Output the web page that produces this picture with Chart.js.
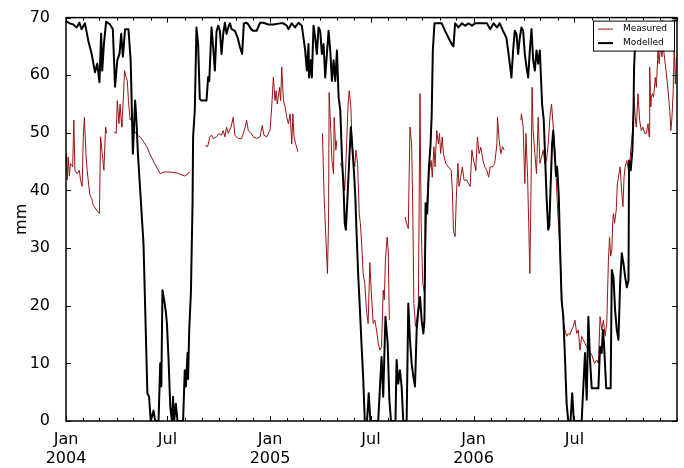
<!DOCTYPE html>
<html>
<head>
<meta charset="utf-8">
<script src="https://cdn.jsdelivr.net/npm/chart.js@4.4.1/dist/chart.umd.min.js"></script>
<style>
  html, body { margin: 0; padding: 0; background: #fff; }
</style>
</head>
<body>
<canvas id="chart" width="684" height="468"></canvas>
<script>
// x values are days counted from 1 Jan 2004
const monthDays = [0, 31, 60, 91, 121, 152, 182, 213, 244, 274, 305, 335,
  366, 397, 425, 456, 486, 517, 547, 578, 609, 639, 670, 700,
  731, 762, 790, 821, 851, 882, 912, 943, 974, 1004, 1035, 1065, 1096];
const tickDays = [0, 182, 366, 547, 731, 912];
const tickText = [['Jan', '2004'], ['Jul'], ['Jan', '2005'], ['Jul'], ['Jan', '2006'], ['Jul']];

// Measured (null = no data)
const measDays = [0, 1, 2, 4, 6, 8, 12, 14, 16, 20, 24, 26, 29, 31, 33, 36, 38, 41, 43, 46, 49, 55, 60, 62, 65, 68, 71, 73, 74,
  86, 90, 92, 95, 97, 99, 100, 103, 105, 108, 110, 112, 115, 118, 122, 128, 133, 139, 145, 151, 160, 169, 175, 187, 200, 213, 222, 223,
  249, 254, 258, 261, 264, 270, 274, 279, 282, 285, 288, 291, 296, 300, 303, 309, 315, 321, 324, 327, 332, 336, 342, 348, 352, 355, 360,
  366, 369, 372, 375, 377, 379, 383, 385, 387, 390, 393, 396, 399, 402, 405, 407, 409, 412, 416, 417,
  460, 463, 466, 469, 471, 472, 475, 477, 480, 481, 484, 486, 488,
  492, 495, 498, 500, 503, 506, 508, 511, 513, 515, 518, 520, 523, 524, 526, 528, 530, 533, 536, 539, 542, 545, 548, 551, 554, 557,
  560, 563, 566, 569, 571, 573, 576, 578, 580, 581,
  608, 611, 614, 617, 620, 622, 624, 627, 629, 632, 635, 637, 640, 643, 646, 649, 652, 655, 657, 660, 662, 665, 668, 670, 672, 675,
  677, 681, 686, 691, 693, 695, 698, 700, 703, 705, 708, 711, 714, 719, 722, 725, 728, 731, 734, 735, 738, 741, 744, 746, 748, 751,
  755, 758, 761, 765, 769, 773, 774, 777, 780, 783, 786, 787,
  816, 817, 820, 823, 825, 828, 830, 832, 834, 836, 838, 841, 844, 847, 850, 853, 856, 859, 862, 865, 868, 871, 874, 877, 880, 882,
  886, 889, 892, 895, 898, 901, 904, 907, 910, 913, 916, 919, 922, 925, 928, 931, 934, 943, 948, 952, 955, 958, 961, 964, 967, 970,
  973, 975, 977, 979, 981, 982, 984, 987, 989, 991, 994, 997, 999, 1001, 1003, 1006, 1009, 1010, 1013, 1016, 1019, 1021, 1023, 1026,
  1029, 1032, 1035, 1038, 1041, 1044, 1046, 1047, 1049, 1050, 1052, 1054, 1057, 1059, 1062, 1064, 1066, 1069, 1071, 1074, 1077, 1080,
  1083, 1085, 1087, 1089, 1091, 1093, 1095];
const measVals = [45, 46.4, 41.8, 45.8, 42.5, 44.7, 44.1, 52.2, 43.5, 42.9, 43.5, 41.8, 40.7, 49.3, 52.7, 45.8, 43.5, 40.7, 39.2, 38.6, 37.4, 36.6, 36, 49.3, 46.4, 43.5, 51, 49.9, null,
  50.2, 49.9, 55.6, 51.6, 55, 52.2, 51, 56.2, 60.8, 59.6, 59, 55.6, 52.2, 52.7, 50.4, 49.6, 49.3, 48.5, 47.6, 46.2, 44.5, 42.9, 43.2, 43.2, 43, 42.5, 43.2, null,
  47.8, 47.6, 49.3, 49.6, 49, 49.3, 49.9, 49.6, 50.4, 49.3, 51, 49.9, 51, 52.7, 49.6, 49, 49, 50.8, 52.2, 50.4, 49.9, 49.3, 49, 49.3, 51.3, 49.6, 49.3,
  50.5, 54.5, 59.7, 55.6, 57.3, 55, 57.9, 55.6, 61.4, 55.6, 54.5, 52.7, 51.6, 53.3, 48.1, 53.3, 49.3, 48.1, 46.7, null,
  49.9, 38.9, 32, 25.6, 34.9, 57, 50.4, 45.2, 42.9, 52.7, 47, 48.7, null,
  44.7, 44.1, 42.3, 40, 47, 55, 57.3, 54.5, 48.1, 45.8, 44.1, 47, 44.7, 41.8, 36, 34.3, 31.4, 25.6, 23.9, 19.2, 16.9, 27.5, 21.7, 16.9, 17.5, 15.8,
  13.5, 12.3, 12.9, 22.7, 21, 27.9, 31.9, 29.6, 17.5, null,
  35.4, 34.3, 33.4, 51, 48.1, 37.2, 20.4, 16.4, 17.5, 19.8, 56.8, 34.3, 23.9, 22.1, 34.3, 41.2, 43.5, 45.2, 42.3, 47.6, 44.1, 50.4, 48.1, 49.9, 46.4, 49.3,
  46.4, 44.7, 44.1, 43.5, 40, 33.1, 32, 38.4, 44.7, 40.7, 42.3, 44.1, 41.8, 41.8, 41.2, 40.7, 47, 45.2, 44.1, 43.5, 49.3, 46.4, 47.5, 46.4, 45.2, 44.1,
  43.5, 42.3, 44.1, 44.1, 44.7, 48.1, 52.7, 48.7, 46.4, 47.6, 47, null,
  52.2, 53.3, 51, 41.2, 49.9, 42.3, 34.3, 25.6, 38.9, 57.9, 50.4, 46.4, 42.9, 52.7, 44.7, 45.8, 47, 44.7, 45.2, 48.1, 52.7, 55, 51, 47, 40.7, 36.6,
  29.6, 22.1, 17.5, 15.8, 14.7, 15.2, 15, 15.8, 16.4, 17.5, 15.2, 15.8, 12.3, 14.7, 14.1, 13.5, 12.9, 11.5, 10, 10.6, 10, 18.1, 15.8, 17.5, 14.7, 16.9,
  27.9, 31.9, 28.6, 29.6, 35, 36, 34.3, 36.6, 41.2, 42.3, 44.1, 39.5, 37.2, 42.3, 44.1, 45.2, 43.5, 42.3, 47, 49.9, 56.2, 52.7, 51, 56.8,
  52.2, 50.4, 51, 49.9, 49.9, 51.6, 49.3, 61.4, 54.5, 56.2, 56.8, 56.2, 59.6, 57.9, 64.3, 62, 64.9, 63.2, 65.4, 62.6, 60.3, 57.3,
  53.9, 50.4, 52.7, 56.8, 65.4, 58.5, 63];

// Modelled
const modDays = [0, 1, 7, 13, 19, 24, 28, 34, 40, 46, 52, 56, 60, 63, 65, 68, 72, 79, 84, 88, 92, 96, 99, 102, 106, 112, 116, 120,
  124, 126, 129, 139, 146, 149, 152, 157, 160, 166, 169, 171, 173, 176, 179, 181, 184, 187, 190, 192, 194, 197, 200, 210, 213, 215,
  218, 219, 221, 224, 227, 228, 231, 234, 237, 240, 243, 252, 255, 257, 261, 264, 267, 270, 273, 276, 279, 282, 285, 288, 291, 294,
  297, 303, 308, 312, 316, 319, 324, 327, 332, 336, 342, 348, 354, 363, 372, 384, 390, 396, 399, 405, 411, 417, 423, 426, 429, 432,
  435, 436, 439, 441, 444, 447, 450, 453, 456, 459, 462, 465, 468, 471, 474, 477, 480, 483, 486, 489, 492, 495, 498, 500, 502, 505,
  508, 511, 514, 517, 519, 521, 524, 527, 530, 533, 536, 540, 543, 546, 553, 560, 566, 569, 573, 577, 580, 583, 591, 593, 596, 599,
  602, 605, 611, 614, 617, 620, 623, 626, 629, 632, 635, 638, 641, 643, 645, 648, 651, 654, 656, 658, 661, 674, 680, 686, 692, 695,
  698, 704, 710, 716, 722, 728, 734, 748, 755, 761, 767, 773, 778, 784, 790, 793, 796, 799, 802, 805, 808, 811, 814, 817, 820, 823,
  826, 829, 832, 835, 838, 841, 844, 847, 850, 852, 854, 857, 859, 862, 865, 867, 869, 872, 874, 877, 879, 881, 884, 886, 889, 892,
  895, 898, 901, 905, 908, 911, 925, 928, 931, 934, 937, 940, 943, 955, 958, 961, 963, 965, 969, 977, 979, 982, 985, 988, 991, 994,
  997, 1000, 1003, 1006, 1009, 1010, 1013, 1016, 1018, 1019, 1022, 1023, 1030, 1040, 1050, 1060, 1070, 1080, 1090, 1096];
const modVals = [69.4, 69.4, 69, 68.8, 68.3, 69.1, 68, 69, 66, 63.7, 60.5, 62, 58.8, 67.2, 60.8, 65.4, 69.3, 68.8, 68, 58, 62.6, 63.7, 67.2, 63.2, 68, 68, 62.6, 46.4,
  55.6, 52.7, 46.4, 30.8, 4.8, 4.2, 0, 1.8, 0, 0, 10, 6, 22.7, 21, 19, 17, 10.6, 2.5, 0, 4.2, 0, 3, 0, 0, 8.8, 6,
  11.8, 7.3, 15.8, 22.1, 37.8, 49.3, 53.9, 68.3, 65.4, 55.9, 55.6, 55.6, 59.7, 59, 68.3, 64.9, 60.8, 67.6, 68.6, 67.7, 63.7, 67.2, 69.1, 67.2, 68.3, 69,
  68, 67.7, 66.5, 64.9, 63.7, 69, 69.1, 68.8, 68, 67.7, 67.7, 69.1, 69.1, 68.8, 68.8, 69, 69, 68.6, 68, 69, 68.3, 69.1, 68.6, 66.5, 64.3, 60.8,
  65.4, 59.6, 62.6, 59.6, 68.6, 66.5, 63.7, 68.3, 67.7, 63.7, 65.4, 59.6, 63.7, 67.7, 64.3, 59, 62.6, 59, 64.3, 56.2, 53.9, 45.8, 40, 34.3, 33.2, 38.9,
  45.2, 51, 47, 42.5, 38.9, 33.2, 25.6, 19.8, 13.5, 7.7, 0, 0, 4.8, 0, 0, 0, 11.1, 4.2, 18.1, 13.5, 3.7, 0, 0, 10.6, 6.5, 8.8,
  6, 0, 0, 20.4, 14.1, 10, 7.7, 6, 15.8, 19.2, 21.5, 17.5, 15.2, 17.5, 37.8, 36, 44, 48.1, 53.3, 64.3, 69, 69, 67.7, 66.5, 65.4, 65,
  69, 68.3, 69, 68.6, 69, 68.6, 69, 69, 69, 68, 69, 68.3, 69, 67.7, 66.5, 64.3, 62, 59.6, 64.3, 67.7, 67.2, 63.7, 66.5, 68.3, 67.7, 63.7,
  61.4, 59.6, 64.3, 68, 62.6, 60.8, 64.3, 62, 64.3, 59.6, 55, 52.2, 47, 38.9, 33.2, 33.8, 40, 48.1, 50.4, 45.8, 42.5, 44.1, 38.9, 30.8, 21, 18.1,
  11.1, 3, 0, 0, 4.8, 0, 0, 6, 11.8, 3.7, 18.1, 10.6, 5.7, 5.7, 12.9, 11.8, 15.8, 13.5, 5.7, 5.7, 26.2, 25, 19.2, 15.8, 14.1, 24,
  29.1, 27.3, 25, 23.2, 24.4, 45.2, 43.5, 47, 53.9, 61.4, 67.7, 69.3, 69.2, 68.8, 69.3, 69, 69.4, 69, 69.5, 69.5];

const font = { family: 'DejaVu Sans', size: 16, lineHeight: 1.2 };

// frame, inward ticks and legend box drawn over the data
const framePlugin = {
  id: 'frame',
  afterDraw(chart) {
    const { ctx, chartArea: a, scales: { x, y } } = chart;
    ctx.save();
    ctx.strokeStyle = '#000';
    ctx.lineWidth = 1;
    ctx.beginPath();
    x.ticks.forEach(t => {
      const px = Math.round(x.getPixelForValue(t.value)) + 0.5;
      const len = tickDays.includes(t.value) ? 5 : 3;
      ctx.moveTo(px, a.bottom); ctx.lineTo(px, a.bottom - len);
      ctx.moveTo(px, a.top); ctx.lineTo(px, a.top + len);
    });
    y.ticks.forEach(t => {
      const py = Math.round(y.getPixelForValue(t.value)) + 0.5;
      ctx.moveTo(a.left, py); ctx.lineTo(a.left + 5, py);
      ctx.moveTo(a.right, py); ctx.lineTo(a.right - 5, py);
    });
    ctx.stroke();
    ctx.lineWidth = 1.5;
    ctx.strokeRect(a.left, a.top, a.right - a.left, a.bottom - a.top);

    // legend
    const lx = a.right - 84, ly = a.top + 3;
    ctx.fillStyle = '#fff';
    ctx.fillRect(lx, ly, 81, 30);
    ctx.lineWidth = 1;
    ctx.strokeRect(lx + 0.5, ly + 0.5, 81, 30);
    ctx.font = '9px "DejaVu Sans"';
    ctx.textBaseline = 'middle';
    chart.data.datasets.forEach((ds, i) => {
      const cy = ly + 8.5 + i * 14;
      ctx.strokeStyle = ds.borderColor;
      ctx.lineWidth = ds.borderWidth;
      ctx.beginPath();
      ctx.moveTo(lx + 5, cy); ctx.lineTo(lx + 20, cy);
      ctx.stroke();
      ctx.fillStyle = '#000';
      ctx.fillText(ds.label, lx + 30, cy);
    });
    ctx.restore();
  }
};

new Chart(document.getElementById('chart'), {
  type: 'line',
  data: {
    datasets: [
      { label: 'Measured', data: measDays.map((d, i) => ({ x: d, y: measVals[i] })), borderColor: '#9a1414', borderWidth: 1, order: 2 },
      { label: 'Modelled', data: modDays.map((d, i) => ({ x: d, y: modVals[i] })), borderColor: '#000000', borderWidth: 2, order: 1 }
    ]
  },
  options: {
    responsive: false,
    animation: false,
    devicePixelRatio: 1,
    spanGaps: false,
    elements: { point: { radius: 0 }, line: { tension: 0, borderJoinStyle: 'round', fill: false } },
    layout: { padding: { top: 17, right: 7, left: 0, bottom: 0 } },
    plugins: { legend: { display: false }, tooltip: { enabled: false } },
    scales: {
      x: {
        type: 'linear', min: 0, max: 1096,
        afterBuildTicks: s => { s.ticks = monthDays.map(v => ({ value: v })); },
        afterFit: s => { s.height = 47; },
        grid: { display: false }, border: { display: false },
        ticks: {
          autoSkip: false, maxRotation: 0, minRotation: 0, padding: 1, color: '#000', font,
          callback: v => { const i = tickDays.indexOf(v); return i < 0 ? '' : tickText[i]; }
        }
      },
      y: {
        min: 0, max: 70,
        afterFit: s => { s.width = 66; },
        grid: { display: false }, border: { display: false },
        ticks: { stepSize: 10, padding: 8, color: '#000', font },
        title: { display: true, text: 'mm', color: '#000', font, padding: { top: 12, bottom: 0 } }
      }
    }
  },
  plugins: [framePlugin]
});
</script>
</body>
</html>
